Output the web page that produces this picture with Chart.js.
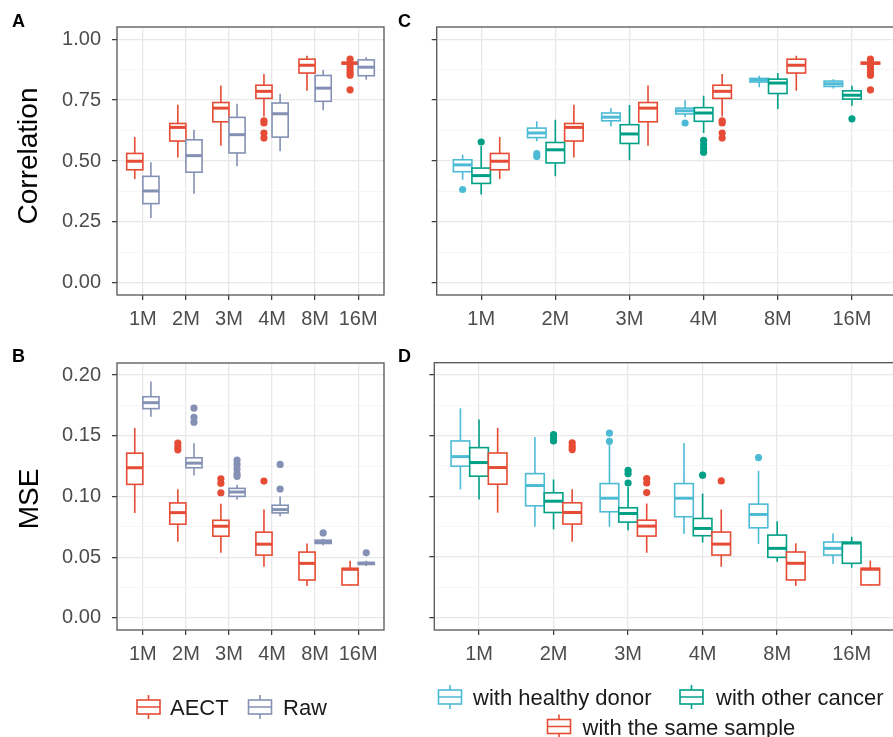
<!DOCTYPE html>
<html>
<head>
<meta charset="utf-8">
<script src="https://cdn.jsdelivr.net/npm/chart.js@4.4.1/dist/chart.umd.min.js"></script>
<style>
  html, body { margin: 0; padding: 0; background: #fff; overflow: hidden; width: 893px; height: 737px; }
  canvas { position: absolute; }
</style>
</head>
<body>
<canvas id="panelA" width="400" height="340" style="left:0;top:0"></canvas>
<canvas id="panelC" width="510" height="340" style="left:390px;top:0"></canvas>
<canvas id="panelB" width="400" height="397" style="left:0;top:340px"></canvas>
<canvas id="panelD" width="510" height="397" style="left:390px;top:340px"></canvas>
<script>
// ========================================
// Data
// each box: [lower whisker, Q1, median, Q3, upper whisker]
// ========================================
const categories = ['1M', '2M', '3M', '4M', '8M', '16M'];

const corrTicks = [0, 0.125, 0.25, 0.375, 0.5, 0.625, 0.75, 0.875, 1];
const corrMajor = [0, 0.25, 0.5, 0.75, 1];
const mseTicks = [0, 0.025, 0.05, 0.075, 0.1, 0.125, 0.15, 0.175, 0.2];
const mseMajor = [0, 0.05, 0.1, 0.15, 0.2];

// Correlation: AECT (= "with the same sample")
const corrAect = [
  [0.426, 0.464, 0.499, 0.531, 0.598],
  [0.514, 0.582, 0.638, 0.654, 0.731],
  [0.563, 0.661, 0.717, 0.740, 0.810],
  [0.683, 0.757, 0.786, 0.811, 0.857],
  [0.788, 0.861, 0.893, 0.918, 0.932],
  [0.895, 0.898, 0.902, 0.905, 0.910]
];
const corrAectOut = [[], [], [], [0.665, 0.656, 0.615, 0.594], [], [0.918, 0.888, 0.875, 0.862, 0.852, 0.792]];

const corrRaw = [
  [0.266, 0.325, 0.377, 0.437, 0.495],
  [0.366, 0.454, 0.522, 0.587, 0.628],
  [0.478, 0.533, 0.608, 0.679, 0.735],
  [0.540, 0.598, 0.694, 0.738, 0.776],
  [0.708, 0.745, 0.799, 0.851, 0.874],
  [0.833, 0.850, 0.885, 0.915, 0.926]
];
const corrRawOut = [[], [], [], [], [], []];

const corrHealthy = [
  [0.423, 0.456, 0.484, 0.505, 0.526],
  [0.581, 0.596, 0.615, 0.635, 0.663],
  [0.642, 0.665, 0.680, 0.697, 0.717],
  [0.680, 0.693, 0.706, 0.717, 0.749],
  [0.803, 0.824, 0.832, 0.839, 0.850],
  [0.798, 0.806, 0.817, 0.828, 0.836]
];
const corrHealthyOut = [[0.383], [0.530, 0.518], [], [0.656], [], []];

const corrOther = [
  [0.363, 0.408, 0.440, 0.471, 0.562],
  [0.437, 0.492, 0.546, 0.576, 0.669],
  [0.503, 0.572, 0.611, 0.649, 0.730],
  [0.615, 0.663, 0.697, 0.719, 0.768],
  [0.713, 0.777, 0.820, 0.836, 0.861],
  [0.727, 0.754, 0.770, 0.788, 0.809]
];
const corrOtherOut = [[0.578], [], [], [0.585, 0.567, 0.551, 0.536], [], [0.673]];

// MSE: AECT (= "with the same sample")
const mseAect = [
  [0.0865, 0.1100, 0.1237, 0.1357, 0.1565],
  [0.0627, 0.0772, 0.0867, 0.0947, 0.1059],
  [0.0536, 0.0673, 0.0755, 0.0804, 0.0941],
  [0.0421, 0.0517, 0.0607, 0.0706, 0.0892],
  [0.0263, 0.0312, 0.0449, 0.0542, 0.0613],
  [0.0263, 0.0271, 0.0400, 0.0408, 0.0471]
];
const mseAectOut = [[], [0.1440, 0.1410, 0.1385], [0.1146, 0.1110, 0.1031], [0.1127], [], []];

const mseRaw = [
  [0.1658, 0.1724, 0.1773, 0.1822, 0.1948],
  [0.1174, 0.1237, 0.1275, 0.1319, 0.1439],
  [0.0974, 0.1001, 0.1037, 0.1067, 0.1097],
  [0.0837, 0.0865, 0.0892, 0.0928, 0.1001],
  [0.0599, 0.0613, 0.0629, 0.0640, 0.0651],
  [0.0427, 0.0440, 0.0449, 0.0457, 0.0470]
];
const mseRawOut = [[], [0.1729, 0.1653, 0.1612], [0.1300, 0.1264, 0.1226, 0.1187, 0.1166], [0.1264, 0.1062], [0.0700], [0.0536]];

const mseHealthy = [
  [0.1056, 0.1248, 0.1327, 0.1456, 0.1726],
  [0.0750, 0.0922, 0.1089, 0.1187, 0.1488],
  [0.0750, 0.0873, 0.0985, 0.1105, 0.1434],
  [0.0690, 0.0832, 0.0985, 0.1105, 0.1439],
  [0.0607, 0.0741, 0.0851, 0.0936, 0.1210],
  [0.0443, 0.0517, 0.0572, 0.0624, 0.0695]
];
const mseHealthyOut = [[], [], [0.1521, 0.1453], [], [0.1319], []];

const mseOther = [
  [0.0974, 0.1166, 0.1278, 0.1401, 0.1633],
  [0.0730, 0.0867, 0.0960, 0.1029, 0.1138],
  [0.0722, 0.0788, 0.0859, 0.0906, 0.1080],
  [0.0621, 0.0676, 0.0736, 0.0818, 0.1023],
  [0.0462, 0.0498, 0.0572, 0.0681, 0.0796],
  [0.0413, 0.0449, 0.0616, 0.0621, 0.0668]
];
const mseOtherOut = [[], [0.1508, 0.1483, 0.1456], [0.1215, 0.1187, 0.1110], [0.1174], [], []];

// colours
const RED = '#E64B35';
const RAW = '#8491B4';
const CYAN = '#4DBBD5';
const GREEN = '#00A087';

Chart.defaults.font.family = "'Liberation Sans', Arial, Helvetica, sans-serif";

// ========================================
// Plugins
// ========================================
const boxPlugin = {
  id: 'boxes',
  beforeDatasetsDraw(chart) {
    const { ctx, scales: { x, y } } = chart;
    chart.data.datasets.forEach(ds => {
      if (!ds.stats) return;
      const half = ds.boxWidth / 2;
      ds.stats.forEach((s, i) => {
        const cx = i + 1 + ds.shift;
        const xl = x.getPixelForValue(cx - half);
        const xr = x.getPixelForValue(cx + half);
        const xc = x.getPixelForValue(cx);
        const [lo, q1, med, q3, hi] = s.map(v => y.getPixelForValue(v));
        ctx.save();
        ctx.strokeStyle = ds.color;
        ctx.lineWidth = 1.6;
        ctx.beginPath();
        ctx.moveTo(xc, hi); ctx.lineTo(xc, q3);
        ctx.moveTo(xc, q1); ctx.lineTo(xc, lo);
        ctx.stroke();
        ctx.fillStyle = '#fff';
        ctx.fillRect(xl, q3, xr - xl, q1 - q3);
        ctx.strokeRect(xl, q3, xr - xl, q1 - q3);
        ctx.lineWidth = 3;
        ctx.beginPath();
        ctx.moveTo(xl, med); ctx.lineTo(xr, med);
        ctx.stroke();
        ctx.restore();
      });
    });
  },
  afterDraw(chart) {
    const { ctx, chartArea: a } = chart;
    ctx.save();
    ctx.strokeStyle = '#555';
    ctx.lineWidth = 1.3;
    ctx.strokeRect(a.left, a.top, a.right - a.left, a.bottom - a.top);
    ctx.restore();
  }
};

const textPlugin = {
  id: 'panelText',
  afterDraw(chart, args, opts) {
    const { ctx } = chart;
    ctx.save();
    ctx.fillStyle = '#000';
    ctx.font = "bold 18px 'Liberation Sans', Arial, sans-serif";
    ctx.textBaseline = 'alphabetic';
    ctx.fillText(opts.letter, opts.letterX, opts.letterY);
    if (opts.title) {
      ctx.translate(opts.titleX, opts.titleY);
      ctx.rotate(-Math.PI / 2);
      ctx.font = "28px 'Liberation Sans', Arial, sans-serif";
      ctx.textAlign = 'center';
      ctx.fillText(opts.title, 0, 0);
    }
    ctx.restore();
  }
};

const legendPlugin = {
  id: 'boxLegend',
  afterDraw(chart, args, opts) {
    if (!opts.items) return;
    const { ctx } = chart;
    ctx.save();
    opts.items.forEach(it => {
      const w = 23, cx = it.x + w / 2;
      ctx.strokeStyle = it.color;
      ctx.lineWidth = 1.6;
      ctx.strokeRect(it.x, it.y - 7, w, 14);
      ctx.beginPath();
      ctx.moveTo(cx, it.y - 12); ctx.lineTo(cx, it.y - 7);
      ctx.moveTo(cx, it.y + 7); ctx.lineTo(cx, it.y + 12);
      ctx.moveTo(it.x, it.y); ctx.lineTo(it.x + w, it.y);
      ctx.stroke();
      ctx.fillStyle = '#1a1a1a';
      ctx.font = "22px 'Liberation Sans', Arial, sans-serif";
      ctx.fillText(it.label, it.textX, it.y + 8);
    });
    ctx.restore();
  }
};

// ========================================
// Panel builder
// ========================================
function makePanel(id, cfg) {
  const datasets = cfg.series.map(s => ({
    data: s.outliers.flatMap((vals, i) => vals.map(v => ({ x: i + 1 + s.shift, y: v }))),
    stats: s.stats,
    shift: s.shift,
    boxWidth: cfg.boxWidth,
    color: s.color,
    backgroundColor: s.color,
    borderWidth: 0,
    pointRadius: 3.6,
    pointHoverRadius: 3.6
  }));
  const isMajor = v => cfg.yMajor.some(m => Math.abs(m - v) < 1e-9);

  return new Chart(document.getElementById(id), {
    type: 'scatter',
    data: { datasets },
    options: {
      responsive: false,
      animation: false,
      events: [],
      layout: { padding: cfg.padding },
      plugins: {
        legend: { display: false },
        tooltip: { enabled: false },
        panelText: cfg.text,
        boxLegend: cfg.legend || {}
      },
      scales: {
        x: {
          type: 'linear',
          min: 0.4,
          max: 6.6,
          afterFit: s => { s.height = 45; },
          afterBuildTicks: s => { s.ticks = categories.map((c, i) => ({ value: i + 1 })); },
          ticks: {
            autoSkip: false,
            maxRotation: 0,
            padding: 7,
            color: '#4d4d4d',
            font: { size: 20 },
            callback: v => categories[Math.round(v) - 1]
          },
          grid: { color: '#e8e8e8', lineWidth: 1.3, tickLength: 5, tickColor: '#333', tickWidth: 1.2 },
          border: { display: false }
        },
        y: {
          min: cfg.yMin,
          max: cfg.yMax,
          afterFit: s => { s.width = cfg.yWidth; },
          afterBuildTicks: s => { s.ticks = cfg.yTicks.map(v => ({ value: v })); },
          ticks: {
            display: cfg.yLabels,
            padding: 11,
            color: '#4d4d4d',
            font: { size: 20 },
            callback: v => isMajor(v) ? v.toFixed(2) : ''
          },
          grid: {
            color: c => (c.tick && isMajor(c.tick.value)) ? '#e8e8e8' : '#f3f3f3',
            lineWidth: c => (c.tick && isMajor(c.tick.value)) ? 1.3 : 0.8,
            tickLength: 5,
            tickColor: c => (c.tick && isMajor(c.tick.value)) ? '#333' : 'rgba(0,0,0,0)',
            tickWidth: 1.2
          },
          border: { display: false }
        }
      }
    },
    plugins: [boxPlugin, textPlugin, legendPlugin]
  });
}

// A: correlation, AECT vs Raw
makePanel('panelA', {
  boxWidth: 0.375,
  yMin: -0.05, yMax: 1.05, yTicks: corrTicks, yMajor: corrMajor,
  yWidth: 117, yLabels: true,
  padding: { top: 27, right: 16, left: 0, bottom: 0 },
  text: { letter: 'A', letterX: 12, letterY: 27, title: 'Correlation', titleX: 37, titleY: 156 },
  series: [
    { stats: corrAect, outliers: corrAectOut, shift: -0.1875, color: RED },
    { stats: corrRaw, outliers: corrRawOut, shift: 0.1875, color: RAW }
  ]
});

// C: correlation, three comparisons
makePanel('panelC', {
  boxWidth: 0.25,
  yMin: -0.05, yMax: 1.05, yTicks: corrTicks, yMajor: corrMajor,
  yWidth: 46.7, yLabels: false,
  padding: { top: 27, right: 3.5, left: 0, bottom: 0 },
  text: { letter: 'C', letterX: 8, letterY: 27 },
  series: [
    { stats: corrHealthy, outliers: corrHealthyOut, shift: -0.25, color: CYAN },
    { stats: corrOther, outliers: corrOtherOut, shift: 0, color: GREEN },
    { stats: corrAect, outliers: corrAectOut, shift: 0.25, color: RED }
  ]
});

// B: MSE, AECT vs Raw
makePanel('panelB', {
  boxWidth: 0.375,
  yMin: -0.01, yMax: 0.21, yTicks: mseTicks, yMajor: mseMajor,
  yWidth: 117, yLabels: true,
  padding: { top: 22.7, right: 16, left: 0, bottom: 62 },
  text: { letter: 'B', letterX: 12, letterY: 22, title: 'MSE', titleX: 38, titleY: 159 },
  legend: {
    items: [
      { label: 'AECT', color: RED, x: 137, y: 367, textX: 170 },
      { label: 'Raw', color: RAW, x: 248.5, y: 367, textX: 283 }
    ]
  },
  series: [
    { stats: mseAect, outliers: mseAectOut, shift: -0.1875, color: RED },
    { stats: mseRaw, outliers: mseRawOut, shift: 0.1875, color: RAW }
  ]
});

// D: MSE, three comparisons
makePanel('panelD', {
  boxWidth: 0.25,
  yMin: -0.01, yMax: 0.21, yTicks: mseTicks, yMajor: mseMajor,
  yWidth: 44.3, yLabels: false,
  padding: { top: 22.7, right: 3.5, left: 0, bottom: 62 },
  text: { letter: 'D', letterX: 8, letterY: 22 },
  legend: {
    items: [
      { label: 'with healthy donor', color: CYAN, x: 48.5, y: 357, textX: 83 },
      { label: 'with other cancer', color: GREEN, x: 290, y: 357, textX: 326 },
      { label: 'with the same sample', color: RED, x: 157.5, y: 386.5, textX: 192.5 }
    ]
  },
  series: [
    { stats: mseHealthy, outliers: mseHealthyOut, shift: -0.25, color: CYAN },
    { stats: mseOther, outliers: mseOtherOut, shift: 0, color: GREEN },
    { stats: mseAect, outliers: mseAectOut, shift: 0.25, color: RED }
  ]
});
</script>
</body>
</html>
